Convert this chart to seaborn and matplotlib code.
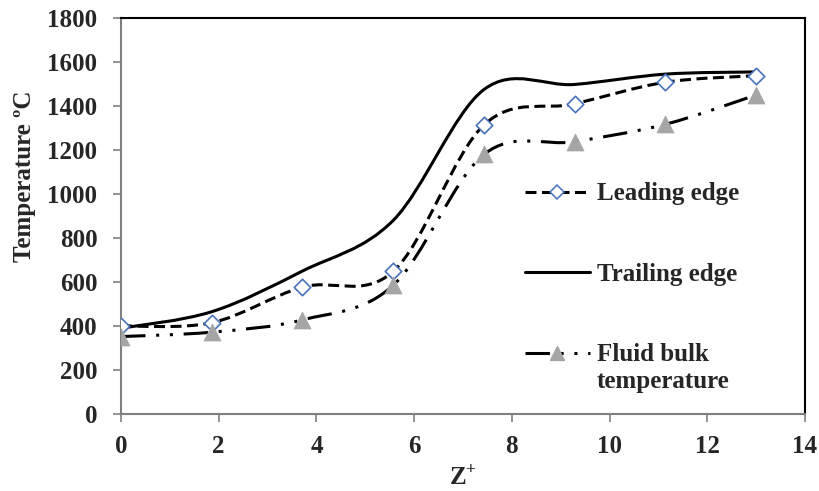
import numpy as np
import matplotlib
matplotlib.use("Agg")
import matplotlib.pyplot as plt
from matplotlib.path import Path
from matplotlib.patches import PathPatch
from matplotlib.lines import Line2D
import seaborn as sns

# Axial positions (dimensionless Z+)
z_plus = [0.0, 1.857, 3.714, 5.571, 7.429, 9.286, 11.143, 13.0]

# Temperatures in deg C
leading_edge = [400, 415, 577, 648, 1314, 1410, 1508, 1538]
trailing_edge = [390, 465, 650, 880, 1475, 1498, 1545, 1555]
fluid_bulk = [352, 372, 428, 585, 1180, 1238, 1317, 1450]

series_labels = ["Leading edge", "Trailing edge", "Fluid bulk"]
label_continuation = "temperature"
x_ticks = [0, 2, 4, 6, 8, 10, 12, 14]
y_ticks = [0, 200, 400, 600, 800, 1000, 1200, 1400, 1600, 1800]

sns.set_theme(style="white")
plt.rcParams["font.family"] = ["Liberation Serif", "DejaVu Serif"]
plt.rcParams["font.weight"] = "bold"
plt.rcParams["mathtext.fontset"] = "custom"
plt.rcParams["mathtext.rm"] = "Liberation Serif:bold"
plt.rcParams["mathtext.bf"] = "Liberation Serif:bold"

FS = 18

fig = plt.figure(figsize=(8.2, 4.91), dpi=100)
ax = fig.add_axes([0.1476, 0.1568, 0.8341, 0.8065])


def smooth_path(xs, ys):
    """Cubic Bezier path through the points (cardinal spline)."""
    p = np.column_stack([xs, ys]).astype(float)
    n = len(p)
    verts = [p[0]]
    codes = [Path.MOVETO]
    for i in range(n - 1):
        p0 = p[i - 1] if i > 0 else p[i]
        p1 = p[i]
        p2 = p[i + 1]
        p3 = p[i + 2] if i + 2 < n else p[i + 1]
        c1 = p1 + (p2 - p0) / 6.0
        c2 = p2 - (p3 - p1) / 6.0
        verts += [c1, c2, p2]
        codes += [Path.CURVE4] * 3
    return Path(verts, codes)


lw = 2.2
styles = {
    "lead": (0, (3.6, 1.8)),
    "trail": "-",
    "fluid": (0, (8, 3.5, 1, 3.5, 1, 3.5)),
}

for ys, key in [(trailing_edge, "trail"), (leading_edge, "lead"), (fluid_bulk, "fluid")]:
    patch = PathPatch(smooth_path(z_plus, ys), facecolor="none",
                      edgecolor="black", lw=lw, linestyle=styles[key],
                      capstyle="butt", zorder=2)
    ax.add_patch(patch)

diamond_blue = "#4472C4"
tri_grey = "#A5A5A5"

sns.scatterplot(x=z_plus, y=leading_edge, ax=ax, marker="D", s=70,
                facecolor="white", edgecolor=diamond_blue, linewidth=1.2, zorder=3)
sns.scatterplot(x=z_plus, y=fluid_bulk, ax=ax, marker="^", s=150,
                color=tri_grey, edgecolor=tri_grey, linewidth=0.5, zorder=3)

ax.set_xlim(0, 14)
ax.set_ylim(0, 1800)
ax.set_xticks(x_ticks)
ax.set_yticks(y_ticks)
ax.tick_params(axis="both", which="major", labelsize=FS, length=6, width=1.2,
               color="#808080", direction="out",
               bottom=True, left=True)
ax.tick_params(axis="y", pad=11)
ax.tick_params(axis="x", pad=9)
for lab in ax.get_xticklabels() + ax.get_yticklabels():
    lab.set_fontweight("bold")

for side in ["left", "bottom"]:
    ax.spines[side].set_color("#808080")
    ax.spines[side].set_linewidth(1.5)
for side in ["top", "right"]:
    ax.spines[side].set_color("black")
    ax.spines[side].set_linewidth(1.5)

ax.set_xlabel("Z$^{+}$", fontsize=FS, fontweight="bold", labelpad=6)
ax.set_ylabel("Temperature ºC", fontsize=FS, fontweight="bold", labelpad=8, y=0.60)

handles = [
    Line2D([], [], color="black", lw=lw, ls=styles["lead"], marker="D",
           markersize=7, markerfacecolor="white", markeredgecolor=diamond_blue,
           markeredgewidth=1.1),
    Line2D([], [], color="black", lw=lw, ls="-"),
    Line2D([], [], color="black", lw=lw, ls=styles["fluid"], marker="^",
           markersize=10, markerfacecolor=tri_grey, markeredgecolor=tri_grey),
]
leg = ax.legend(handles, series_labels, loc="upper left",
                bbox_to_anchor=(0.59, 0.585), frameon=False,
                prop={"family": "Liberation Serif", "weight": "bold", "size": FS},
                handlelength=2.6, handletextpad=0.3, labelspacing=2.3,
                borderaxespad=0, borderpad=0)

# second line of the last legend label, aligned under its first line
fig.canvas.draw()
last = leg.get_texts()[-1]
bb = last.get_window_extent(fig.canvas.get_renderer())
inv = fig.transFigure.inverted()
x0, y0 = inv.transform((bb.x0, bb.y0))
fig.text(x0, y0 - 27 / 491, label_continuation, fontsize=FS, fontweight="bold",
         family="Liberation Serif", ha="left", va="bottom")

fig.savefig("out.png", dpi=100)
